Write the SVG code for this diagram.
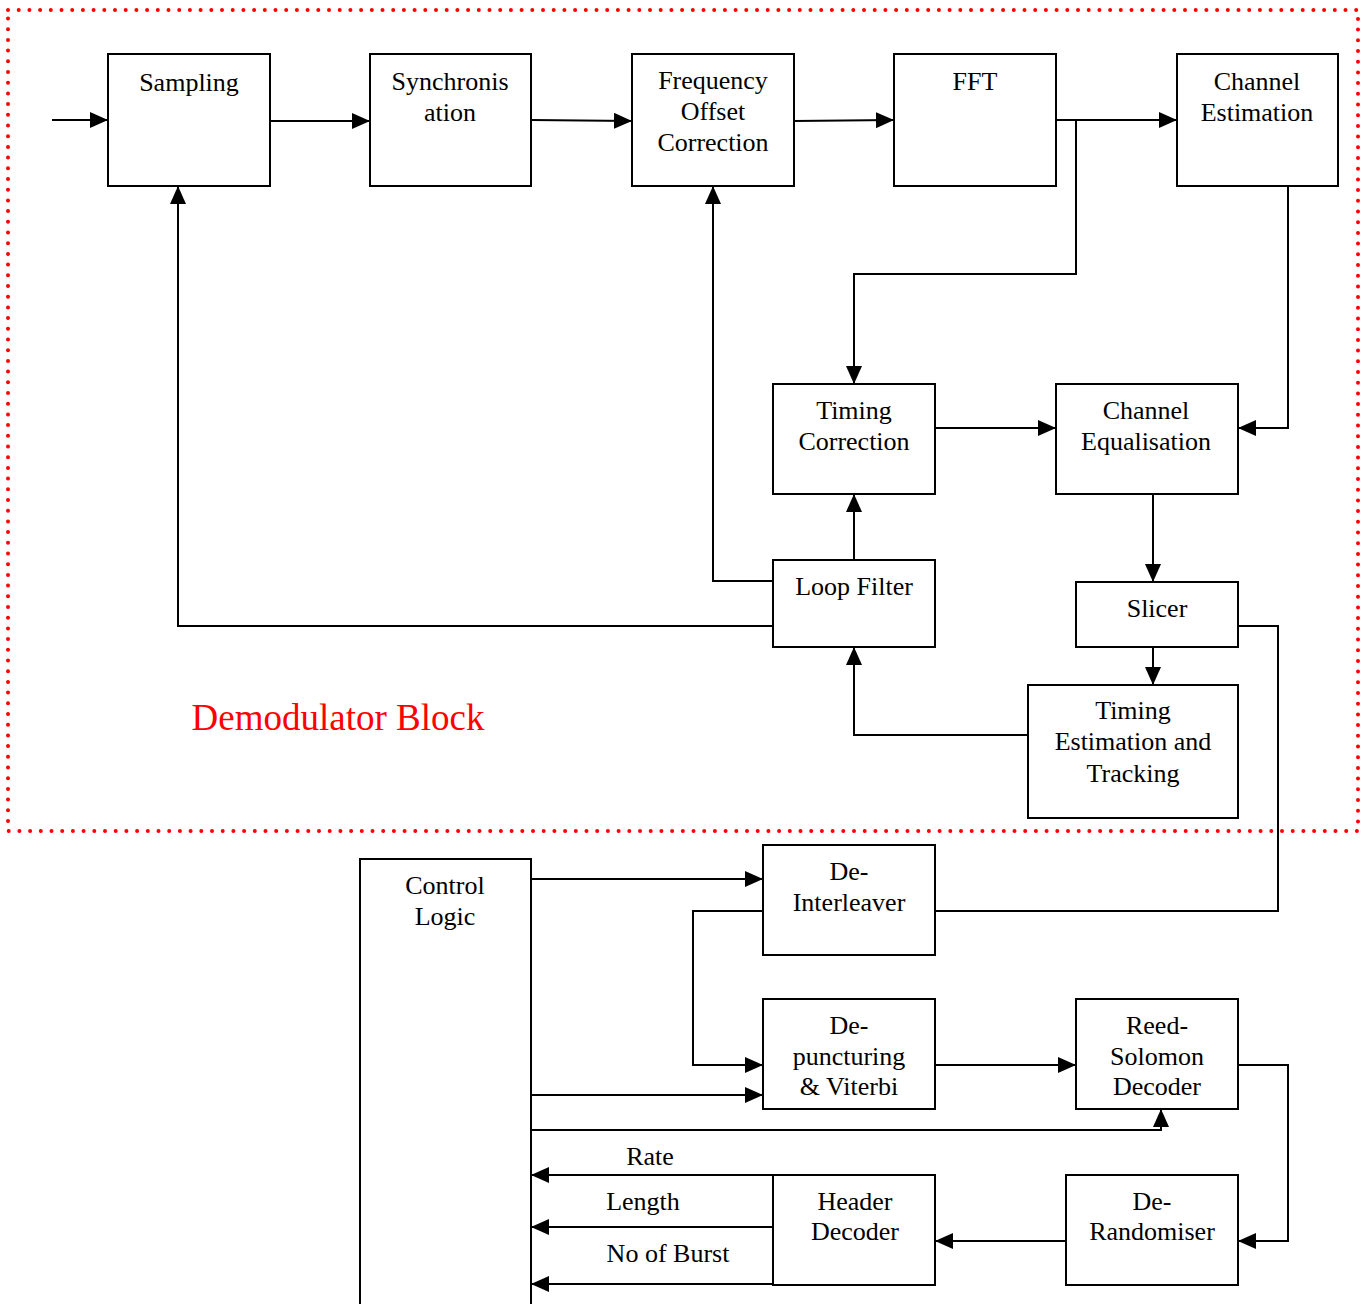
<svg xmlns="http://www.w3.org/2000/svg" width="1367" height="1304" viewBox="0 0 1367 1304">
<style>
.b{fill:#fff;stroke:#000;stroke-width:2}
.t{font-family:"Liberation Serif","Times New Roman",serif;font-size:26px;fill:#000;text-anchor:middle}
.l{font-family:"Liberation Serif","Times New Roman",serif;font-size:24px;fill:#000;text-anchor:middle}
.c{fill:none;stroke:#000;stroke-width:2}
.a{marker-end:url(#ah)}
</style>
<defs>
<marker id="ah" markerUnits="userSpaceOnUse" markerWidth="20" markerHeight="16" refX="18" refY="8" orient="auto">
<path d="M0,0 L18,8 L0,16 Z" fill="#000"/>
</marker>
</defs>
<rect x="0" y="0" width="1367" height="1304" fill="#fff"/>
<rect id="demod-border" x="8" y="10" width="1350" height="821" fill="none" stroke="#f00" stroke-width="4" stroke-dasharray="0 10.7" stroke-linecap="round"/>
<text x="338" y="730" style="font-family:'Liberation Serif','Times New Roman',serif;font-size:37px;fill:#f00;text-anchor:middle">Demodulator Block</text>

<g id="connectors">
<path class="c a" d="M52,120 H108"/>
<path class="c a" d="M270,121 H370"/>
<path class="c a" d="M531,120 L632,121"/>
<path class="c a" d="M794,121 L894,120"/>
<path class="c a" d="M1056,120 H1177"/>
<path class="c a" d="M1076,120 V274 H854 V384"/>
<path class="c a" d="M1288,186 V428 H1238"/>
<path class="c a" d="M935,428 H1056"/>
<path class="c a" d="M1153,494 V582"/>
<path class="c a" d="M1153,647 V685"/>
<path class="c" d="M1238,626 H1278 V911 H935"/>
<path class="c a" d="M1028,735 H854 V647"/>
<path class="c a" d="M854,560 V494"/>
<path class="c a" d="M773,581 H713 V186"/>
<path class="c a" d="M773,626 H178 V186"/>
<path class="c a" d="M531,879 H763"/>
<path class="c a" d="M763,911 H693 V1065 H763"/>
<path class="c a" d="M531,1095 H763"/>
<path class="c a" d="M531,1130 H1161 V1109"/>
<path class="c a" d="M935,1065 H1076"/>
<path class="c a" d="M1238,1065 H1288 V1241 H1238"/>
<path class="c a" d="M1066,1241 H935"/>
<path class="c a" d="M773,1175 H531"/>
<path class="c a" d="M773,1227 H531"/>
<path class="c a" d="M773,1284 H531"/>
</g>

<g id="sampling"><rect class="b" x="108" y="54" width="162" height="132"/><text class="t" x="189" y="91">Sampling</text></g>
<g id="synchronisation"><rect class="b" x="370" y="54" width="161" height="132"/><text class="t" x="450" y="90">Synchronis</text><text class="t" x="450" y="121">ation</text></g>
<g id="freq-offset"><rect class="b" x="632" y="54" width="162" height="132"/><text class="t" x="713" y="89">Frequency</text><text class="t" x="713" y="120">Offset</text><text class="t" x="713" y="151">Correction</text></g>
<g id="fft"><rect class="b" x="894" y="54" width="162" height="132"/><text class="t" x="975" y="90">FFT</text></g>
<g id="channel-estimation"><rect class="b" x="1177" y="54" width="161" height="132"/><text class="t" x="1257" y="90">Channel</text><text class="t" x="1257" y="121">Estimation</text></g>
<g id="timing-correction"><rect class="b" x="773" y="384" width="162" height="110"/><text class="t" x="854" y="419">Timing</text><text class="t" x="854" y="450">Correction</text></g>
<g id="channel-equalisation"><rect class="b" x="1056" y="384" width="182" height="110"/><text class="t" x="1146" y="419">Channel</text><text class="t" x="1146" y="450">Equalisation</text></g>
<g id="loop-filter"><rect class="b" x="773" y="560" width="162" height="87"/><text class="t" x="854" y="595">Loop Filter</text></g>
<g id="slicer"><rect class="b" x="1076" y="582" width="162" height="65"/><text class="t" x="1157" y="617">Slicer</text></g>
<g id="timing-estimation"><rect class="b" x="1028" y="685" width="210" height="133"/><text class="t" x="1133" y="719">Timing</text><text class="t" x="1133" y="750">Estimation and</text><text class="t" x="1133" y="782">Tracking</text></g>
<g id="control-logic"><path class="c" d="M360,1304 V859 H531 V1304"/><text class="t" x="445" y="894">Control</text><text class="t" x="445" y="925">Logic</text></g>
<g id="de-interleaver"><rect class="b" x="763" y="845" width="172" height="110"/><text class="t" x="849" y="880">De-</text><text class="t" x="849" y="911">Interleaver</text></g>
<g id="de-puncturing"><rect class="b" x="763" y="999" width="172" height="110"/><text class="t" x="849" y="1034">De-</text><text class="t" x="849" y="1065">puncturing</text><text class="t" x="849" y="1095">&amp; Viterbi</text></g>
<g id="reed-solomon"><rect class="b" x="1076" y="999" width="162" height="110"/><text class="t" x="1157" y="1034">Reed-</text><text class="t" x="1157" y="1065">Solomon</text><text class="t" x="1157" y="1095">Decoder</text></g>
<g id="header-decoder"><rect class="b" x="773" y="1175" width="162" height="110"/><text class="t" x="855" y="1210">Header</text><text class="t" x="855" y="1240">Decoder</text></g>
<g id="de-randomiser"><rect class="b" x="1066" y="1175" width="172" height="110"/><text class="t" x="1152" y="1210">De-</text><text class="t" x="1152" y="1240">Randomiser</text></g>

<text class="t" x="650" y="1165">Rate</text>
<text class="t" x="643" y="1210">Length</text>
<text class="t" x="668" y="1262">No of Burst</text>
</svg>
